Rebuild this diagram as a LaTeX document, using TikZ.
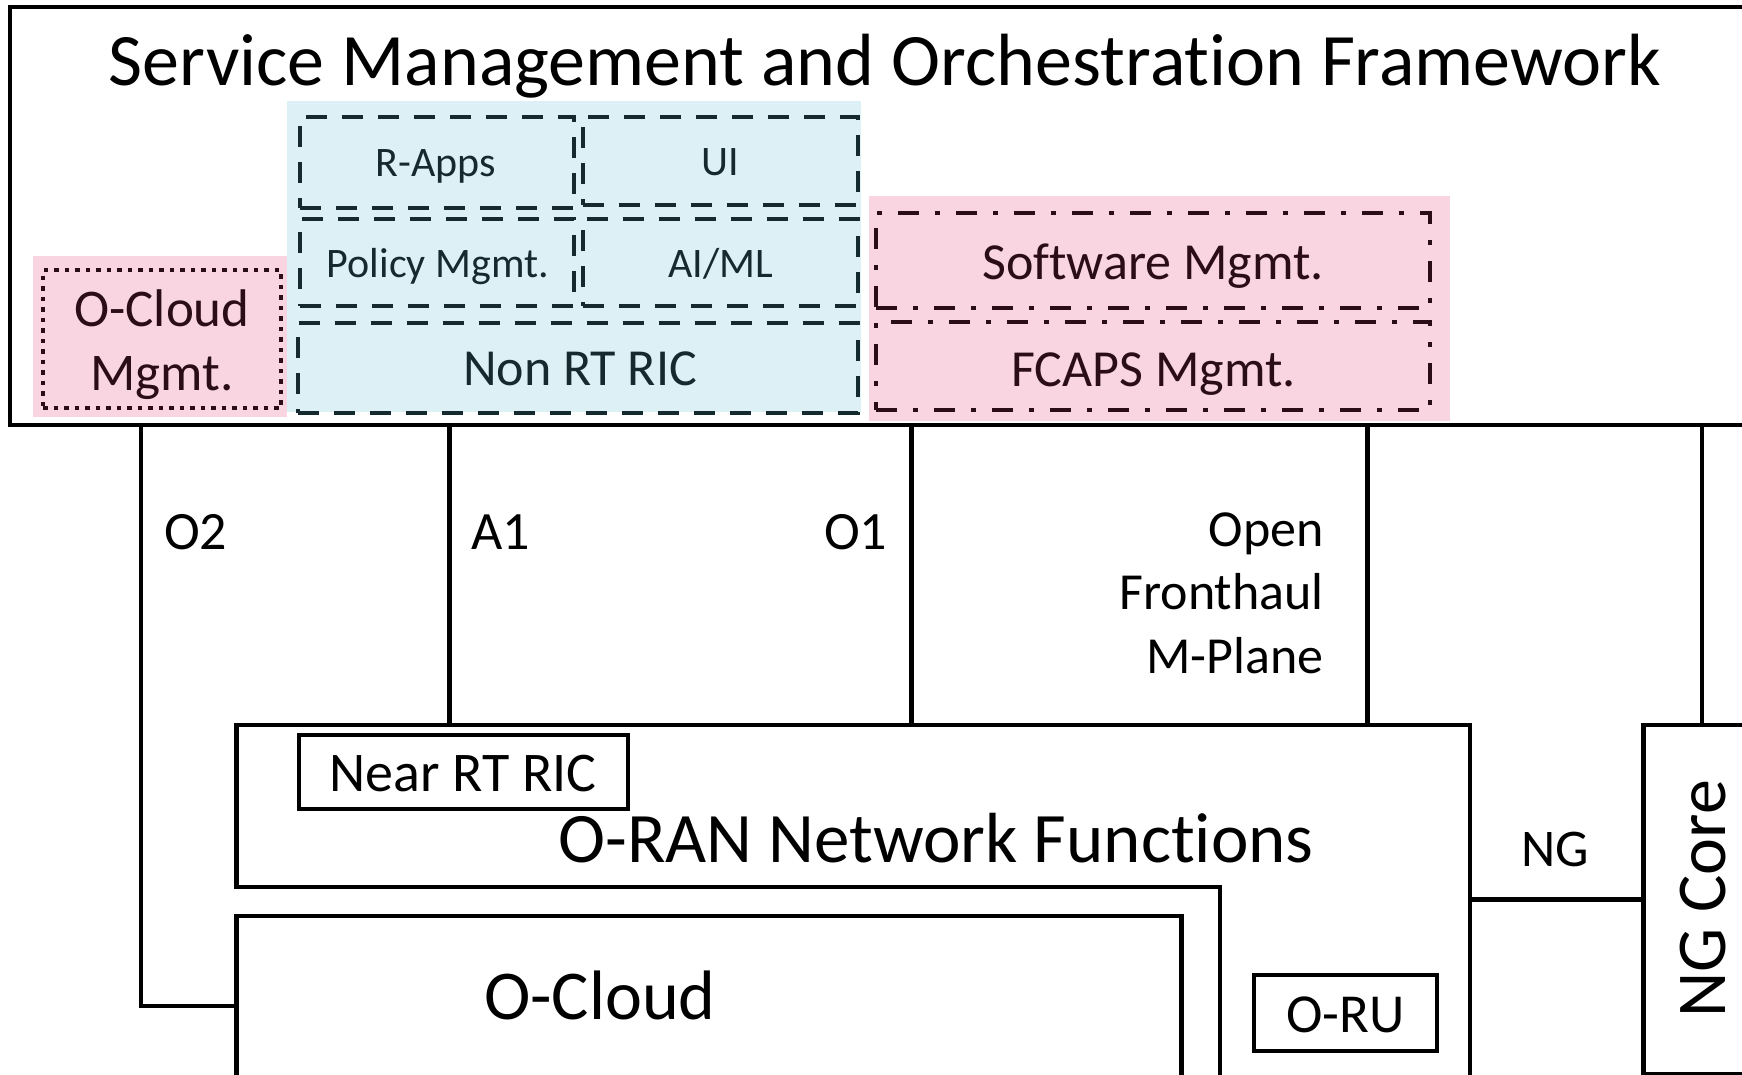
\documentclass[tikz,border=0pt]{standalone}
\usepackage{fontspec}
\setmainfont{Carlito}[Ligatures={NoRequired,NoCommon,NoContextual}]
\usetikzlibrary{fit}
\definecolor{bluebg}{HTML}{DDF0F6}
\definecolor{pinkbg}{HTML}{F8D5E0}
\definecolor{dteal}{HTML}{152A2F}
\definecolor{dmaroon}{HTML}{2B0D18}
\begin{document}
\begin{tikzpicture}[x=1pt,y=-1pt,
  area/.style={fit={#1}, inner sep=0pt},
  solidbox/.style={draw=black, line width=4.8pt},
  smallbox/.style={draw=black, line width=4pt},
  dashbox/.style={draw=dteal, line width=4.2pt, dash pattern=on 21pt off 15pt},
  dotbox/.style={draw=dmaroon, line width=4.5pt, dash pattern=on 4.5pt off 6pt},
  dashdotbox/.style={draw=dmaroon, line width=4.5pt, dash pattern=on 21pt off 16pt on 5pt off 16pt},
  conn/.style={draw=black, line width=4.8pt},
  lbl/.style={inner sep=0pt, anchor=base},
  bluetxt/.style={lbl, text=dteal, font=\fontsize{42}{50}\selectfont},
  pinktxt/.style={lbl, text=dmaroon, font=\fontsize{52}{62}\selectfont},
  ifacetxt/.style={lbl, font=\fontsize{54}{64}\selectfont},
]
\useasboundingbox (0,0) rectangle (1742,1074);
\fill[white] (0,0) rectangle (1742,1074);

% backgrounds
\node[area={(287,101)(861,412)}, fill=bluebg] (nonrtbg) {};
\node[area={(33,256)(287,417)}, fill=pinkbg] (ocmbg) {};
\node[area={(869,196)(1450,421)}, fill=pinkbg] (smbg) {};

% SMO frame
\node[area={(10,7)(1790,425)}, solidbox] (smo) {};
\node[lbl, font=\fontsize{74}{88}\selectfont] (smotitle) at (885,85.5) {Service Management and Orches\kern0pt tration Framework};

% Non RT RIC group
\node[area={(300,117)(574,208)}, dashbox] (rapps) {};
\node[area={(583,117)(858,205)}, dashbox] (ui) {};
\node[area={(300,219)(574,306)}, dashbox] (policy) {};
\node[area={(583,219)(858,306)}, dashbox] (aiml) {};
\node[area={(298,323)(858,413)}, dashbox] (nonrt) {};
\node[bluetxt] (rappst) at (436,176.5) {R-Apps};
\node[bluetxt] (uit) at (720,175) {UI};
\node[bluetxt] (policyt) at (438,277) {Policy Mgmt.};
\node[bluetxt] (aimlt) at (721,277) {AI/ML};
\node[lbl, text=dteal, font=\fontsize{52}{62}\selectfont] (nonrtt) at (580,385) {Non RT RIC};

% O-Cloud Mgmt
\node[area={(43,270)(281,408)}, dotbox] (ocm) {};
\node[lbl, text=dmaroon, font=\fontsize{53}{64}\selectfont] (ocmt1) at (162,326) {O-Cloud};
\node[lbl, text=dmaroon, font=\fontsize{53}{64}\selectfont] (ocmt2) at (162,390) {Mgmt.};

% Software / FCAPS
\node[area={(876,213)(1430,308)}, dashdotbox] (sw) {};
\node[area={(876,322)(1430,410)}, dashdotbox] (fcaps) {};
\node[pinktxt] (swt) at (1153,279.3) {Software Mgmt.};
\node[pinktxt] (fcapst) at (1153.5,386) {FCAPS Mgmt.};

% O-RAN network functions
\node[area={(236.5,725)(1470,887)}] (oran) {};
\draw[solidbox, line join=miter] (1470,1100) -- (1470,725) -- (236.5,725) -- (236.5,887) -- (1220,887) -- (1220,1100);
\node[lbl, font=\fontsize{71}{85}\selectfont] (orant) at (936,862) {O-RAN Network Func\kern0pt tions};
\node[area={(298.5,734.5)(627.5,809)}, smallbox] (nearric) {};
\node[lbl, font=\fontsize{56}{67}\selectfont] (nearrict) at (463,791) {Near RT RIC};
\node[area={(1254,975)(1437,1050.5)}, smallbox] (oru) {};
\node[lbl, font=\fontsize{55}{66}\selectfont] (orut) at (1345.5,1032) {O-RU};

% O-Cloud
\node[area={(236.5,916)(1181.6,1096)}, solidbox] (ocloud) {};
\node[lbl, font=\fontsize{70}{84}\selectfont] (ocloudt) at (600,1019) {O-Cloud};

% NG Core
\node[area={(1643.5,725)(1760.5,1074.2)}, solidbox] (ngcore) {};
\node[inner sep=0pt, rotate=90, font=\fontsize{70}{84}\selectfont] (ngcoret) at (1703,899) {NG Core};

% connectors
\coordinate (o2x) at (141,0);
\coordinate (a1x) at (449.5,0);
\coordinate (o1x) at (911.4,0);
\coordinate (ofhx) at (1367.6,0);
\draw[conn, line join=miter] (smo.south -| o2x) -- (ocloud.west -| o2x) -- (ocloud.west);
\draw[conn] (smo.south -| a1x) -- (oran.north -| a1x);
\draw[conn] (smo.south -| o1x) -- (oran.north -| o1x);
\draw[conn] (smo.south -| ofhx) -- (oran.north -| ofhx);
\draw[conn] (smo.south -| ngcore.north) -- (ngcore.north);
\draw[conn] (oran.east |- ngcore.west) -- (ngcore.west);

% interface labels
\node[ifacetxt, anchor=base west] (o2t) at (164,549.2) {O2};
\node[ifacetxt, anchor=base west] (a1t) at (471,549.2) {A1};
\node[ifacetxt, anchor=base west] (o1t) at (824,549.2) {O1};
\node[lbl, anchor=base east, font=\fontsize{52}{62}\selectfont] (ofht1) at (1324,546) {Open};
\node[lbl, anchor=base east, font=\fontsize{52}{62}\selectfont] (ofht2) at (1324,609.4) {Fronthaul};
\node[lbl, anchor=base east, font=\fontsize{52}{62}\selectfont] (ofht3) at (1324,673) {M-Plane};
\node[lbl, font=\fontsize{53}{64}\selectfont] (ngt) at (1555,866.5) {NG};
\end{tikzpicture}
\end{document}
